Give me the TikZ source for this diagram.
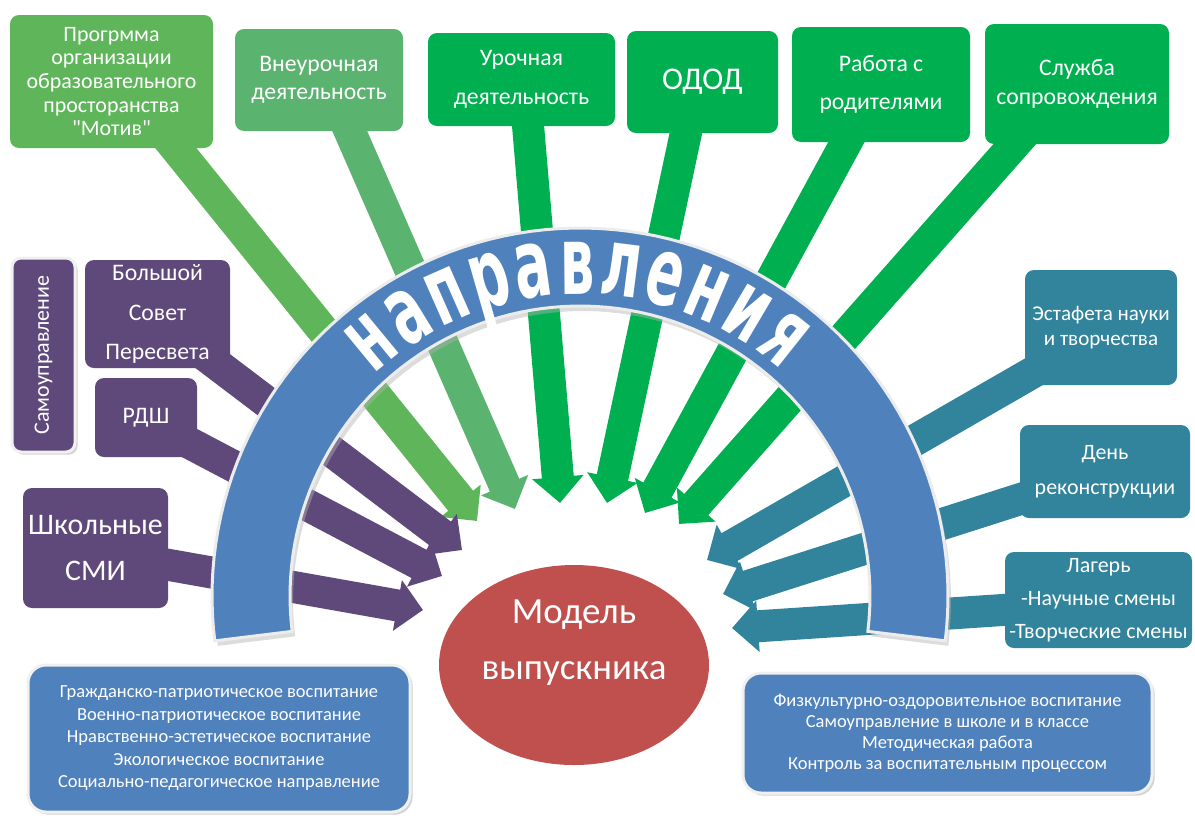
\documentclass[tikz,border=0pt]{standalone}
\usepackage{fontspec}
\setmainfont{Carlito}[Ligatures=TeXOff]
\newfontfamily\arcfont{DejaVu Sans}
\usetikzlibrary{arrows.meta,shapes.geometric,shadows}
\newdimen\pxu \pxu=0.02cm
\definecolor{gA}{HTML}{5FB65A}
\definecolor{gB}{HTML}{5AB36F}
\definecolor{gC}{HTML}{00B050}
\definecolor{pur}{HTML}{5F497A}
\definecolor{tealc}{HTML}{31849B}
\definecolor{blu}{HTML}{4F81BD}
\definecolor{redc}{HTML}{C0504D}
\pgfdeclarelayer{bg}
\pgfsetlayers{bg,main}
\begin{document}
\begin{tikzpicture}[x=0.02cm,y=-0.02cm,
  box/.style={rounded corners=9\pxu, inner sep=0pt, align=center, text=white},
  arr/.style={line width=32\pxu, shorten <=-30\pxu, -{Triangle[width=1cm,length=0.52cm]}},
  bbox/.style={box, fill=blu, draw=gray!12, line width=3\pxu, rounded corners=18\pxu,
     drop shadow={opacity=0.35,shadow xshift=1.5pt,shadow yshift=-1.5pt}},
  letter/.style={inner sep=0pt, anchor=base, text=white, font=\arcfont\bfseries\fontsize{31}{31}\selectfont}
]
\useasboundingbox (0,0) rectangle (1195,818);

% ---- arc band ----
\fill[gray!60, opacity=0.45, shift={(3,5)}]
  plot[domain=173:367,samples=90] ({580+368*cos(\x)},{596+368*sin(\x)})
  -- plot[domain=367:173,samples=90] ({580+290*cos(\x)},{596+290*sin(\x)}) -- cycle;
\filldraw[fill=blu, draw=gray!15, line width=3\pxu]
  plot[domain=173:367,samples=90] ({580+368*cos(\x)},{596+368*sin(\x)})
  -- plot[domain=367:173,samples=90] ({580+290*cos(\x)},{596+290*sin(\x)}) -- cycle;

% ---- arc text ----
\foreach \l/\a [count=\i] in {н/129.5,а/121.6,п/113.8,р/106,а/98.2,в/90.5,л/82.8,е/75,н/67.2,и/59.4,я/51.5}{
  \node[letter, rotate=\a-90] (l\i) at ({580+302*cos(\a)},{596-302*sin(\a)}) {\scalebox{1}[1.75]{\l}};
}

% ---- top boxes ----
\node[box, fill=gA, minimum width=203\pxu, minimum height=133\pxu, font=\fontsize{12.5}{13.4}\selectfont] (b1) at (111.5,81.5)
  {Прогрмма\\организации\\образовательного\\просторанства\\"Мотив"};
\node[box, fill=gB, minimum width=168\pxu, minimum height=102\pxu, font=\fontsize{13.5}{16}\selectfont] (b2) at (319,80)
  {Внеурочная\\деятельность};
\node[box, fill=gC, minimum width=187\pxu, minimum height=93\pxu, font=\fontsize{13.5}{22}\selectfont] (b3) at (521.5,79.5)
  {Урочная\\деятельность};
\node[box, fill=gC, minimum width=151\pxu, minimum height=102\pxu, font=\fontsize{18}{22}\selectfont] (b4) at (702.5,82)
  {ОДОД};
\node[box, fill=gC, minimum width=178\pxu, minimum height=115\pxu, font=\fontsize{13.5}{22}\selectfont] (b5) at (881,84.5)
  {Работа с\\родителями};
\node[box, fill=gC, minimum width=184\pxu, minimum height=120\pxu, font=\fontsize{13.5}{16.5}\selectfont] (b6) at (1077,84)
  {Служба\\сопровождения};

% ---- left boxes ----
\node[box, fill=pur, draw=gray!12, line width=3\pxu, rotate=90, minimum width=194\pxu, minimum height=63\pxu,
  font=\fontsize{12.5}{15}\selectfont, drop shadow={opacity=0.35,shadow xshift=1.5pt,shadow yshift=-1.5pt}] (samo) at (43.5,355)
  {Самоуправление};
\node[box, fill=pur, minimum width=145\pxu, minimum height=108\pxu, font=\fontsize{13.5}{22.5}\selectfont] (sovet) at (157.5,314)
  {Большой\\Совет\\Пересвета};
\node[box, fill=pur, minimum width=102\pxu, minimum height=79\pxu, font=\fontsize{13.5}{16}\selectfont] (rdsh) at (146,417.5)
  {РДШ};
\node[box, fill=pur, minimum width=145\pxu, minimum height=120\pxu, font=\fontsize{17}{26}\selectfont] (smi) at (95.5,548)
  {Школьные\\СМИ};

% ---- right boxes ----
\node[box, fill=tealc, minimum width=152\pxu, minimum height=115\pxu, font=\fontsize{12}{14.5}\selectfont] (est) at (1101,327.5)
  {Эстафета науки\\и творчества};
\node[box, fill=tealc, minimum width=170\pxu, minimum height=93\pxu, font=\fontsize{12.5}{20}\selectfont] (den) at (1105,471.5)
  {День\\реконструкции};
\node[box, fill=tealc, minimum width=187\pxu, minimum height=96\pxu, font=\fontsize{12.5}{18.7}\selectfont] (lag) at (1098.5,600)
  {Лагерь\\-Научные смены\\-Творческие смены};

% ---- centre ellipse ----
\node[ellipse, fill=redc, inner sep=0pt, minimum width=270\pxu, minimum height=200\pxu] (model) at (574,665) {};
\node[text=white, align=center, inner sep=0pt, font=\fontsize{21}{32}\selectfont] (modeltxt) at (574,643) {Модель\\выпускника};

% ---- bottom boxes ----
\node[bbox, minimum width=382\pxu, minimum height=147\pxu, font=\fontsize{10.5}{12.8}\selectfont] (bl) at (219,738.5)
  {Гражданско-патриотическое воспитание\\Военно-патриотическое воспитание\\Нравственно-эстетическое воспитание\\Экологическое воспитание\\Социально-педагогическое направление};
\node[bbox, minimum width=409\pxu, minimum height=120\pxu, font=\fontsize{10.5}{12}\selectfont] (br) at (947.5,733)
  {Физкультурно-оздоровительное воспитание\\Самоуправление в школе и в классе\\Методическая работа\\Контроль за воспитательным процессом};

% ---- arrow tips ----
\coordinate (t1) at (477,521);
\coordinate (t2) at (515,509);
\coordinate (t3) at (560,503);
\coordinate (t4) at (607,503);
\coordinate (t5) at (645,513);
\coordinate (t6) at (679,524);
\coordinate (p1) at (462,550);
\coordinate (p2) at (442,576);
\coordinate (p3) at (423,610);
\coordinate (q1) at (707,560);
\coordinate (q2) at (723,594);
\coordinate (q3) at (732,628);

\begin{pgfonlayer}{bg}
\draw[arr, color=gA] (b1.-46) -- (t1);
\draw[arr, color=gB] (b2.-59) -- (t2);
\draw[arr, color=gC] (b3.-82.6) -- (t3);
\draw[arr, color=gC] (b4.-108.3) -- (t4);
\draw[arr, color=gC] (b5.-121.7) -- (t5);
\draw[arr, color=gC] (b6.-136) -- (t6);
\draw[arr, color=pur] (sovet.-40) -- (p1);
\draw[arr, color=pur] (rdsh.-30.6) -- (p2);
\draw[arr, color=pur] (smi.-13) -- (p3);
\draw[arr, color=tealc] (est.213.6) -- (q1);
\draw[arr, color=tealc] (den.198.5) -- (q2);
\draw[arr, color=tealc] (lag.186) -- (q3);
\end{pgfonlayer}
\end{tikzpicture}
\end{document}
